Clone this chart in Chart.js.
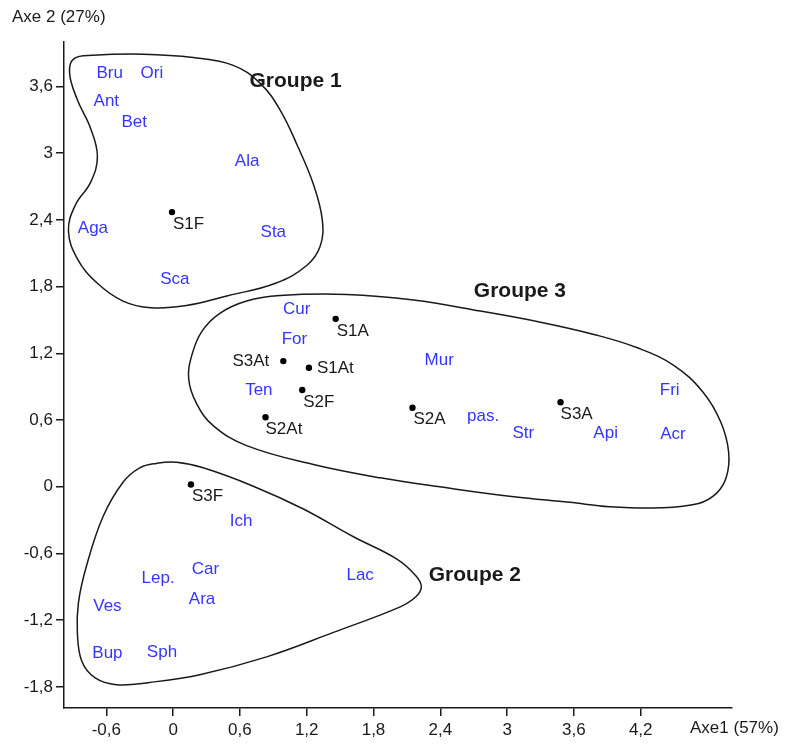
<!DOCTYPE html>
<html>
<head>
<meta charset="utf-8">
<script src="https://cdn.jsdelivr.net/npm/chart.js@4/dist/chart.umd.min.js"></script>
<style>
body{margin:0;background:#fff}
</style>
</head>
<body>
<canvas id="afc" width="786" height="744"></canvas>
<script>
// ---- data ----
const xTicks=[-0.6,0,0.6,1.2,1.8,2.4,3,3.6,4.2]
const yTicks=[-1.8,-1.2,-0.6,0,0.6,1.2,1.8,2.4,3,3.6]

const siteNames=["S1F","S1A","S3At","S1At","S2F","S2At","S2A","S3A","S3F"]
const siteX=[-0.01,1.46,0.99,1.22,1.16,0.83,2.15,3.48,0.16]
const siteY=[2.47,1.51,1.13,1.07,0.87,0.625,0.71,0.76,0.02]

const speciesNames=["Bru","Ori","Ant","Bet","Ala","Aga","Sta","Sca","Cur","For","Mur","Ten","pas.","Str","Api","Fri","Acr","Ich","Car","Lep.","Lac","Ara","Ves","Bup","Sph"]
const speciesX=[-0.57,-0.19,-0.60,-0.35,0.665,-0.72,0.90,0.015,1.11,1.09,2.39,0.77,2.785,3.145,3.885,4.46,4.49,0.61,0.29,-0.135,1.68,0.26,-0.59,-0.59,-0.10]
const speciesY=[3.72,3.72,3.47,3.28,2.93,2.32,2.29,1.87,1.60,1.33,1.14,0.87,0.63,0.48,0.48,0.87,0.47,-0.315,-0.74,-0.82,-0.80,-1.01,-1.075,-1.50,-1.485]

const groupNames=["Groupe 1","Groupe 2","Groupe 3"]
const groupX=[1.10,2.71,3.115]
const groupY=[3.65,-0.80,1.76]

// outlines of the three groups
const group1=[[-0.72,3.88],[-0.27,3.89],[0.18,3.86],[0.54,3.79],[0.78,3.63],[0.96,3.39],[1.12,3.06],[1.26,2.72],[1.34,2.40],[1.32,2.16],[1.20,1.99],[0.92,1.83],[0.50,1.72],[0.12,1.63],[-0.20,1.61],[-0.45,1.67],[-0.68,1.83],[-0.86,2.05],[-0.94,2.30],[-0.88,2.53],[-0.74,2.74],[-0.68,2.97],[-0.74,3.22],[-0.86,3.48],[-0.93,3.72],[-0.89,3.85]]
const group2=[[0.03,0.22],[0.27,0.17],[0.72,0.005],[1.17,-0.20],[1.62,-0.45],[2.01,-0.65],[2.18,-0.80],[2.23,-0.90],[2.18,-0.99],[2.04,-1.08],[1.44,-1.31],[0.84,-1.53],[0.24,-1.69],[-0.21,-1.76],[-0.51,-1.78],[-0.70,-1.72],[-0.82,-1.57],[-0.86,-1.31],[-0.85,-1.04],[-0.78,-0.72],[-0.63,-0.27],[-0.45,0.04],[-0.30,0.17],[-0.15,0.21]]
const group3=[[0.96,1.72],[1.56,1.73],[2.16,1.68],[2.76,1.58],[3.30,1.48],[3.78,1.37],[4.17,1.25],[4.50,1.09],[4.76,0.85],[4.92,0.58],[4.99,0.31],[4.97,0.09],[4.88,-0.06],[4.72,-0.15],[4.37,-0.19],[3.92,-0.18],[3.56,-0.14],[3.06,-0.09],[2.46,-0.01],[1.86,0.08],[1.26,0.20],[0.66,0.37],[0.36,0.55],[0.21,0.75],[0.14,0.97],[0.17,1.19],[0.26,1.40],[0.42,1.56],[0.66,1.67]]

// ---- styles ----
const FONT="'Liberation Sans', Arial, sans-serif"
const BLUE="#3535ff"
const INK="#1a1a1a"

// where each site name sits relative to its dot: dx, dy, align
const siteLabelPos={
S1F:[1,12,"left"],S1A:[1,12,"left"],S3At:[-14,0,"right"],S1At:[8,1,"left"],
S2F:[1,12,"left"],S2At:[0,12,"left"],S2A:[1,12,"left"],S3A:[0,12,"left"],S3F:[1,12,"left"]
}

const toPts=(xs,ys)=>xs.map((x,i)=>({x:x,y:ys[i]}))

// closed curve: repeat neighbours at both ends so the spline is smooth at the join,
// the two extra segments are hidden
function closedOutline(pts){
const d=[pts[pts.length-1],...pts,pts[0],pts[1]].map(p=>({x:p[0],y:p[1]}))
const last=d.length-2
return {
data:d,showLine:true,pointRadius:0,borderColor:INK,borderWidth:1.5,tension:0.4,
segment:{borderColor:c=>(c.p0DataIndex===0||c.p0DataIndex===last)?"rgba(0,0,0,0)":undefined}
}
}

const textLabels={
id:"textLabels",
afterDatasetsDraw(chart){
const ctx=chart.ctx
chart.data.datasets.forEach((ds,i)=>{
if(!ds.names) return
const meta=chart.getDatasetMeta(i)
ctx.save()
ctx.font=ds.labelFont
ctx.fillStyle=ds.labelColor
ctx.textBaseline="middle"
meta.data.forEach((pt,j)=>{
const pos=ds.labelPos?ds.labelPos[ds.names[j]]:[0,0,"center"]
ctx.textAlign=pos[2]
ctx.fillText(ds.names[j],pt.x+pos[0],pt.y+pos[1])
})
ctx.restore()
})
// axis titles
const a=chart.chartArea
ctx.save()
ctx.font="17px "+FONT
ctx.fillStyle=INK
ctx.textBaseline="middle"
ctx.textAlign="left"
ctx.fillText("Axe 2 (27%)",12,a.top-25)
ctx.fillText("Axe1 (57%)",a.right-42,a.bottom+20)
ctx.restore()
}
}

const axisCommon={
type:"linear",
grid:{display:true,drawOnChartArea:false,drawTicks:true,tickLength:8,color:INK,lineWidth:1.5},
border:{display:true,color:INK,width:1.5},
ticks:{color:INK,font:{family:FONT,size:17},callback:v=>String(v).replace(".",",")}
}

new Chart(document.getElementById("afc"),{
type:"scatter",
data:{datasets:[
closedOutline(group1),
closedOutline(group2),
closedOutline(group3),
{data:toPts(speciesX,speciesY),pointRadius:0,names:speciesNames,labelFont:"17px "+FONT,labelColor:BLUE},
{data:toPts(siteX,siteY),pointRadius:3.2,pointBackgroundColor:"#000",pointBorderWidth:0,
names:siteNames,labelPos:siteLabelPos,labelFont:"17px "+FONT,labelColor:INK},
{data:toPts(groupX,groupY),pointRadius:0,names:groupNames,labelFont:"bold 21px "+FONT,labelColor:INK}
]},
options:{
responsive:false,
animation:false,
layout:{padding:{top:42,right:54,left:0,bottom:0}},
plugins:{legend:{display:false},tooltip:{enabled:false}},
scales:{
x:{...axisCommon,min:-0.98,max:5.02,
ticks:{...axisCommon.ticks,padding:4,maxRotation:0},
afterBuildTicks:s=>{s.ticks=xTicks.map(v=>({value:v}))},
afterFit:s=>{s.height=36}},
y:{...axisCommon,min:-1.99,max:4.0,
ticks:{...axisCommon.ticks,padding:3},
afterBuildTicks:s=>{s.ticks=yTicks.map(v=>({value:v}))},
afterFit:s=>{s.width=64}}
}
},
plugins:[textLabels]
})
</script>
</body>
</html>
